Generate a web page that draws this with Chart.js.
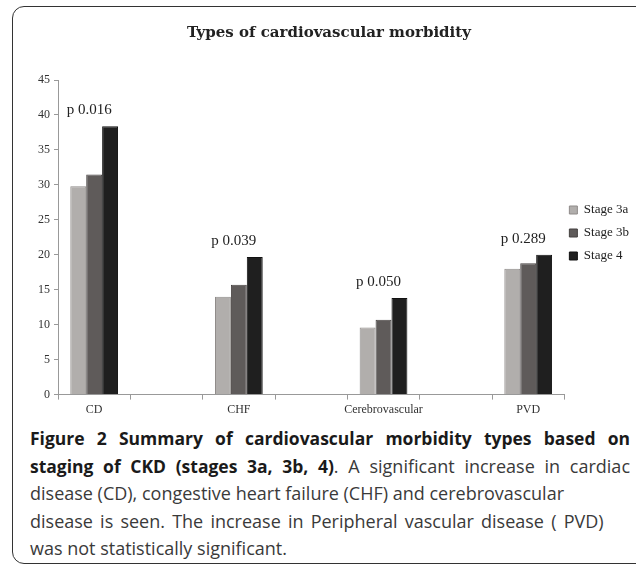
<!DOCTYPE html>
<html>
<head>
<meta charset="utf-8">
<script src="https://cdn.jsdelivr.net/npm/chart.js@4.4.1/dist/chart.umd.min.js"></script>
<style>
  html, body { margin: 0; padding: 0; background: #fff; }
  body { width: 636px; height: 564px; position: relative; overflow: hidden; }
  .frame {
    position: absolute; left: 12px; top: 6px; width: 640px; height: 556px;
    border: 1.5px solid #333; border-radius: 12px;
  }
  .plot { position: absolute; left: 14px; top: 14px; width: 636px; height: 406px; }
  .caption {
    position: absolute; left: 30px; top: 425px; width: 600px;
    font-family: 'Open Sans', sans-serif; font-size: 18px; line-height: 27.5px;
    color: #3a3a3a; white-space: nowrap;
  }
  .caption b { color: #1a1a1a; font-weight: 700; font-size: 17.5px; }
  .caption .just { text-align: justify; text-align-last: justify; }
  .caption .largo { word-spacing: 2.5px; }
</style>
</head>
<body>
<div class="frame"></div>
<div class="plot"><canvas id="grafico" width="636" height="406"></canvas></div>
<div class="caption">
  <div class="just"><b>Figure 2 Summary of cardiovascular morbidity types based on</b></div>
  <div class="just"><b>staging of CKD (stages 3a, 3b, 4)</b>. A significant increase in cardiac</div>
  <div>disease (CD), congestive heart failure (CHF) and cerebrovascular</div>
  <div class="largo">disease is seen. The increase in Peripheral vascular disease ( PVD)</div>
  <div>was not statistically significant.</div>
</div>
<script>
const categorias = ['CD', 'CHF', 'Cerebrovascular', 'PVD']
const estagio3a = [29.8, 14.0, 9.6, 18.0]
const estagio3b = [31.5, 15.7, 10.7, 18.8]
const estagio4 = [38.4, 19.7, 13.8, 20.0]
const valoresP = ['p 0.016', 'p 0.039', 'p 0.050', 'p 0.289']
const ticksY = [0, 5, 10, 15, 20, 25, 30, 35, 40, 45]

const serif = 'Liberation Serif'

// no Excel original cada grupo fica separado por uma categoria vazia
const rotulos = categorias.flatMap((c, i) => i < categorias.length - 1 ? [c, ''] : [c])
const espalhar = arr => arr.flatMap((v, i) => i < arr.length - 1 ? [v, null] : [v])

const rotulosP = {
  id: 'rotulosP',
  afterDatasetsDraw(chart) {
    const { ctx, scales: { x, y } } = chart
    ctx.save()
    ctx.font = `15px "${serif}"`
    ctx.fillStyle = '#222'
    ctx.textAlign = 'center'
    ctx.textBaseline = 'middle'
    categorias.forEach((c, i) => {
      const topo = Math.max(estagio3a[i], estagio3b[i], estagio4[i])
      ctx.fillText(valoresP[i], x.getPixelForValue(i * 2) - 5, y.getPixelForValue(topo) - 16)
    })
    ctx.restore()
  }
}

// legenda encostada no eixo e um pouco mais abaixo, como no original
const ajusteLegenda = {
  id: 'ajusteLegenda',
  afterLayout(chart) {
    const lg = chart.legend
    const pad = lg.options.labels.padding
    const dx = chart.chartArea.right + 5 - pad - lg.left
    lg.left += dx
    lg.right += dx
    lg.top += 16
    lg.bottom += 16
  }
}

new Chart(document.getElementById('grafico'), {
  type: 'bar',
  data: {
    labels: rotulos,
    datasets: [
      { label: 'Stage 3a', data: espalhar(estagio3a), backgroundColor: '#b1aeac', borderColor: '#8f8b89', borderWidth: 1 },
      { label: 'Stage 3b', data: espalhar(estagio3b), backgroundColor: '#5f5b5a', borderColor: '#454140', borderWidth: 1 },
      { label: 'Stage 4', data: espalhar(estagio4), backgroundColor: '#1f1f1f', borderColor: '#111', borderWidth: 1 }
    ]
  },
  options: {
    responsive: false,
    animation: false,
    categoryPercentage: 0.66,
    barPercentage: 1,
    layout: { padding: { right: 6 } },
    plugins: {
      title: {
        display: true,
        text: 'Types of cardiovascular morbidity',
        color: '#222',
        font: { family: 'DejaVu Serif', size: 15, weight: 'bold' },
        padding: { top: 10, bottom: 38 }
      },
      legend: {
        position: 'right',
        align: 'center',
        labels: {
          boxWidth: 8, boxHeight: 8, padding: 10, color: '#222',
          font: { family: serif, size: 13 }
        }
      },
      tooltip: { enabled: false }
    },
    scales: {
      x: {
        grid: { offset: true, drawOnChartArea: false, tickLength: 5, color: '#999' },
        border: { color: '#999' },
        ticks: { autoSkip: false, maxRotation: 0, color: '#333', font: { family: serif, size: 12 } }
      },
      y: {
        min: 0, max: 45,
        afterBuildTicks: s => { s.ticks = ticksY.map(v => ({ value: v })) },
        afterFit: s => { s.width = 44 },
        grid: { drawOnChartArea: false, tickLength: 4, color: '#999' },
        border: { color: '#999' },
        ticks: { color: '#333', padding: 4, font: { family: serif, size: 12 } }
      }
    }
  },
  plugins: [rotulosP, ajusteLegenda]
})
</script>
</body>
</html>
